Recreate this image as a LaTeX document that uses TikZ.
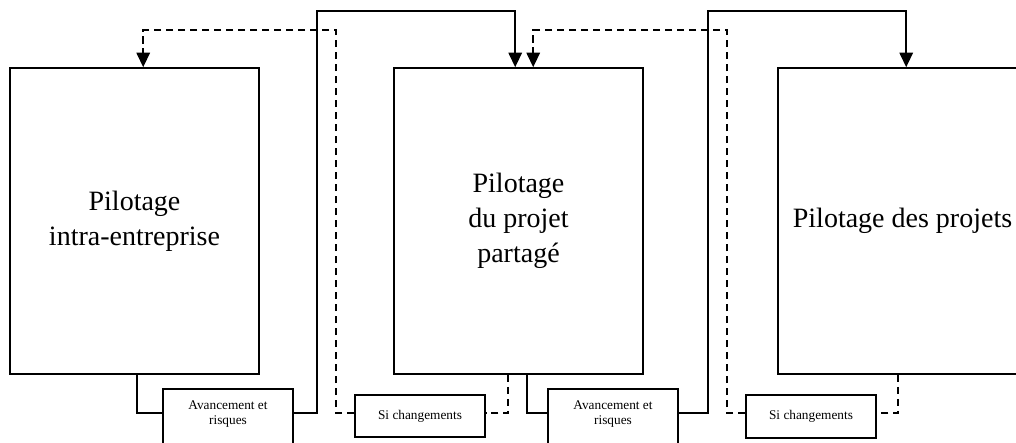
\documentclass[tikz,border=0pt]{standalone}
\usepackage{fontspec}
\setmainfont{Liberation Serif}
\usetikzlibrary{arrows.meta,calc}
\begin{document}
\begin{tikzpicture}[x=1pt,y=-1pt,
  bigbox/.style={draw,line width=1.6pt,minimum width=249pt,minimum height=306pt,inner sep=0pt,align=center,font=\fontsize{28}{35}\selectfont},
  smallbox/.style={draw,line width=1.6pt,minimum width=130pt,inner sep=0pt},
  smalltext/.style={align=center,inner sep=0pt,font=\fontsize{13.3}{15}\selectfont},
  conn/.style={line width=1.5pt},
  dconn/.style={line width=1.5pt,dash pattern=on 7.5pt off 4.5pt},
  tip/.style={-{Triangle[length=14.5pt,width=13.5pt]}}]
\useasboundingbox (0,0) rectangle (1016,442);
\clip (0,0) rectangle (1016,442);
\coordinate (lvl) at (0,413);
% main boxes
\node[bigbox] (box1) at (134.5,221) {Pilotage\\intra-entreprise};
\node[bigbox] (box2) at (518.5,221) {Pilotage\\du projet\\partagé};
\node[bigbox] (box3) at (902.5,221) {Pilotage des projets};
% small boxes
\node[smallbox,minimum height=80pt,anchor=north] (av1) at (228,388) {};
\node[smalltext] (av1t) at (228,414.5) {Avancement et\\risques};
\node[smallbox,minimum height=42pt,smalltext] (si1) at (420,416) {Si changements};
\node[smallbox,minimum height=80pt,anchor=north] (av2) at (613,388) {};
\node[smalltext] (av2t) at (613,414.5) {Avancement et\\risques};
\node[smallbox,minimum height=43pt,smalltext] (si2) at (811,416.5) {Si changements};
% route corners
\coordinate (s1) at (317,11);
\coordinate (d1) at (336,30);
\coordinate (s2) at (708,11);
\coordinate (d2) at (727,30);
% solid connectors
\draw[conn] ($(box1.south west)+(128,0)$) |- (av1.west |- lvl);
\draw[conn,tip] (av1.east |- lvl) -| (s1) -| ($(box2.north west)+(122,0)$);
\draw[conn] ($(box2.south west)+(134,0)$) |- (av2.west |- lvl);
\draw[conn,tip] (av2.east |- lvl) -| (s2) -| ($(box3.north west)+(129,0)$);
% dashed connectors
\draw[dconn] ($(box2.south west)+(115,0)$) |- (si1.east |- lvl);
\draw[dconn,tip] (si1.west |- lvl) -| (d1) -| ($(box1.north west)+(134,0)$);
\draw[dconn] ($(box3.south west)+(121,0)$) |- (si2.east |- lvl);
\draw[dconn,tip] (si2.west |- lvl) -| (d2) -| ($(box2.north west)+(140,0)$);
\end{tikzpicture}
\end{document}
